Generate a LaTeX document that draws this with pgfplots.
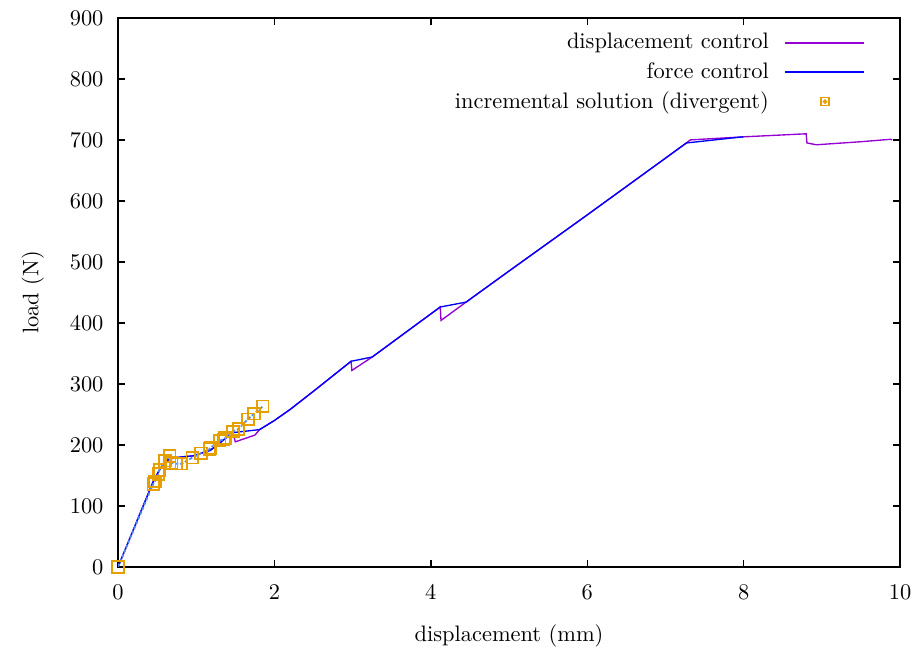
\documentclass[border=0pt]{standalone}
\usepackage{pgfplots}
\pgfplotsset{compat=1.18}
\definecolor{dviolet}{HTML}{9400D3}
\definecolor{fblue}{HTML}{0000FF}
\definecolor{iorange}{HTML}{E69F00}
\definecolor{lblue}{RGB}{80,140,240}
\pgfplotsset{legline/.style={legend image code/.code={\path[draw=none] (0pt,0pt) -- (40.3pt,0pt); \draw[##1, line width=0.7pt] (5.3pt,0pt) -- (40.3pt,0pt);}}}
\begin{document}
\begin{tikzpicture}
\begin{axis}[name=ax,
  scale only axis, width=349pt, height=245pt,
  xmin=0, xmax=10, ymin=0, ymax=900,
  xtick={0,2,...,10}, ytick={0,100,...,900},
  tick align=inside, tick pos=both, major tick length=3pt,
  axis line style={line width=0.9pt},
  every tick/.style={black, line width=0.6pt},
  x tick label style={yshift=-4.5pt},
  y tick label style={xshift=-3pt},
  xlabel={displacement (mm)}, ylabel={load (N)},
  xlabel style={at={(axis description cs:0.5,-0.1265)}, anchor=center},
  ylabel style={at={(axis description cs:-0.109,0.5)}, anchor=center},
  legend cell align=right, legend plot pos=right,
  legend style={draw=none, fill=none, at={(rel axis cs:1,1)}, anchor=north east,
    xshift=-12.7pt, yshift=-2.7pt, row sep=0.5pt,
    nodes={inner sep=2pt}},
]
\addplot[dviolet, line width=0.6pt, legline] coordinates {
(0,0) (0.45,140) (0.53,159) (0.6,172) (0.66,177) (0.8,180) (0.96,182) (1.18,191) (1.30,203) (1.465,220)
(1.50,205) (1.75,216) (1.81,225) (2.0,240) (2.2,258) (2.5,288) (2.98,337) (2.99,322) (3.25,344)
(3.6,377) (4.12,426) (4.13,404) (4.45,434) (5.0,485) (6.0,577) (7.0,670) (7.32,700) (8.0,705)
(8.8,710) (8.81,695) (8.93,692) (9.5,697) (9.88,701) (9.9,700)};
\addlegendentry{displacement control}
\addplot[fblue, line width=0.6pt, legline] coordinates {
(0,0) (0.45,140) (0.53,159) (0.6,172) (0.66,177) (0.8,180) (0.96,182) (1.18,191) (1.30,203) (1.465,220)
(1.81,225) (2.0,240) (2.2,258) (2.5,288) (2.98,337) (3.25,344) (3.6,377) (4.12,426) (4.45,434)
(5.0,485) (6.0,577) (7.0,670) (7.27,695) (7.99,705)};
\addlegendentry{force control}
\addplot[only marks, mark=square, mark size=2.6pt, iorange, line width=0.8pt,
  legend image code/.code={\path[draw=none] (0pt,0pt) -- (40.3pt,0pt); \draw[iorange, line width=0.6pt] (21.3pt,-1.8pt) rectangle (24.9pt,1.8pt); \fill[iorange] (23.1pt,0pt) circle (0.6pt);}] coordinates {
(0,0) (0.45,136) (0.47,140) (0.515,152) (0.53,159) (0.60,174) (0.66,182) (0.685,170) (0.74,169)
(0.81,169) (0.95,179) (1.06,186) (1.17,193) (1.18,195) (1.30,207) (1.35,209) (1.37,211) (1.47,222)
(1.54,226) (1.66,242) (1.74,251) (1.85,263)};
\addlegendentry{incremental solution (divergent)}
\addplot[lblue, line width=0.8pt, dash pattern=on 1.5pt off 0.8pt, forget plot] coordinates {
(0,0) (0.45,136) (0.47,140) (0.515,152) (0.53,159) (0.60,174) (0.66,182) (0.685,170) (0.74,169)
(0.81,169) (0.95,179) (1.06,186) (1.17,193) (1.18,195) (1.30,207) (1.35,209) (1.37,211) (1.47,222)
(1.54,226) (1.66,242) (1.74,251) (1.85,263)};
\end{axis}
\pgfresetboundingbox
\path ([shift={(-52.7pt,-39.3pt)}]ax.south west) rectangle ([shift={(6.25pt,8pt)}]ax.north east);
\end{tikzpicture}
\end{document}
